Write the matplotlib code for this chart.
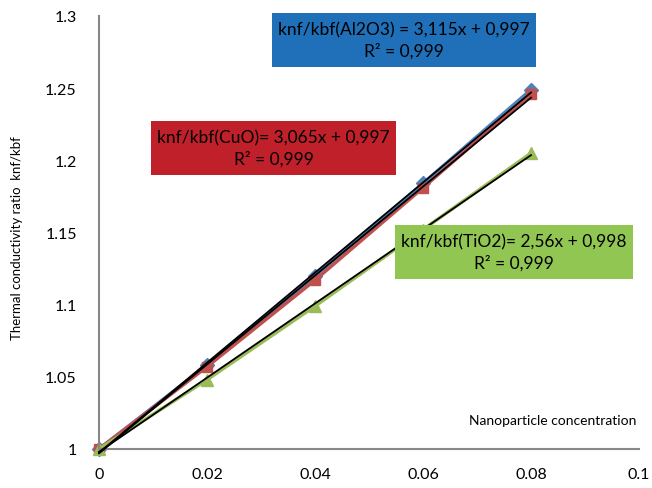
import numpy as np
import matplotlib
matplotlib.use("Agg")
import matplotlib.pyplot as plt
from matplotlib.patches import Rectangle

plt.rcParams['font.family'] = ['Lato', 'DejaVu Sans']

conc = [0, 0.02, 0.04, 0.06, 0.08]
al2o3 = [1.0, 1.058, 1.120, 1.184, 1.249]
cuo = [1.0, 1.057, 1.117, 1.181, 1.246]
tio2 = [1.0, 1.048, 1.099, 1.152, 1.205]

eq_labels = ["knf/kbf(Al2O3) = 3,115x + 0,997\nR² = 0,999",
             "knf/kbf(CuO)= 3,065x + 0,997\nR² = 0,999",
             "knf/kbf(TiO2)= 2,56x + 0,998\nR² = 0,999"]

W, H = 652, 489
fig = plt.figure(figsize=(6.52, 4.89), dpi=100)
ax = fig.add_axes([99 / W, 1 - 450 / H, 540 / W, 433 / H])

series = [(al2o3, '#4F81BD', 'D', 7), (cuo, '#C0504D', 's', 7), (tio2, '#9BBB59', '^', 8)]
x = np.array(conc)
for vals, col, mk, ms in series:
    ax.plot(conc, vals, color=col, lw=2.5, marker=mk, ms=ms, zorder=2, clip_on=False)
# linear trendlines
for vals, col, mk, ms in series:
    p = np.polyfit(x, vals, 1)
    ax.plot(x, np.polyval(p, x), color='black', lw=1.3, zorder=3, clip_on=False)

ax.set_xlim(0, 0.1)
ax.set_ylim(1, 1.3)
ax.set_xticks([0, 0.02, 0.04, 0.06, 0.08, 0.1])
ax.set_xticklabels(['0', '0.02', '0.04', '0.06', '0.08', '0.1'])
ax.set_yticks([1, 1.05, 1.1, 1.15, 1.2, 1.25, 1.3])
ax.set_yticklabels(['1', '1.05', '1.1', '1.15', '1.2', '1.25', '1.3'])
ax.tick_params(length=0, labelsize=11.5, pad=13)
ax.tick_params(axis='y', pad=16)
for s in ['top', 'right']:
    ax.spines[s].set_visible(False)
for s in ['left', 'bottom']:
    ax.spines[s].set_color('#888888')
    ax.spines[s].set_linewidth(1.5)

ax.text(0.995, 0.067, "Nanoparticle concentration", transform=ax.transAxes,
        ha='right', va='center', fontsize=10)
fig.text(17 / W, 1 - 238 / H, "Thermal conductivity ratio  knf/kbf", rotation=90,
         ha='center', va='center', fontsize=9.5)

# equation boxes (pixel extents)
boxes = [(272, 14, 536, 68, '#1F70B9'),
         (151, 122, 396, 176, '#C0202A'),
         (395, 226, 633, 280, '#92C653')]
for (x0, y0, x1, y1, col), lab in zip(boxes, eq_labels):
    fig.add_artist(Rectangle((x0 / W, 1 - y1 / H), (x1 - x0) / W, (y1 - y0) / H,
                             transform=fig.transFigure, facecolor=col, edgecolor='none', zorder=5))
    fig.text((x0 + x1) / 2 / W, 1 - (y0 + y1) / 2 / H, lab, ha='center', va='center',
             fontsize=12.5, linespacing=1.3, zorder=6)

fig.savefig('out.png', dpi=100)
